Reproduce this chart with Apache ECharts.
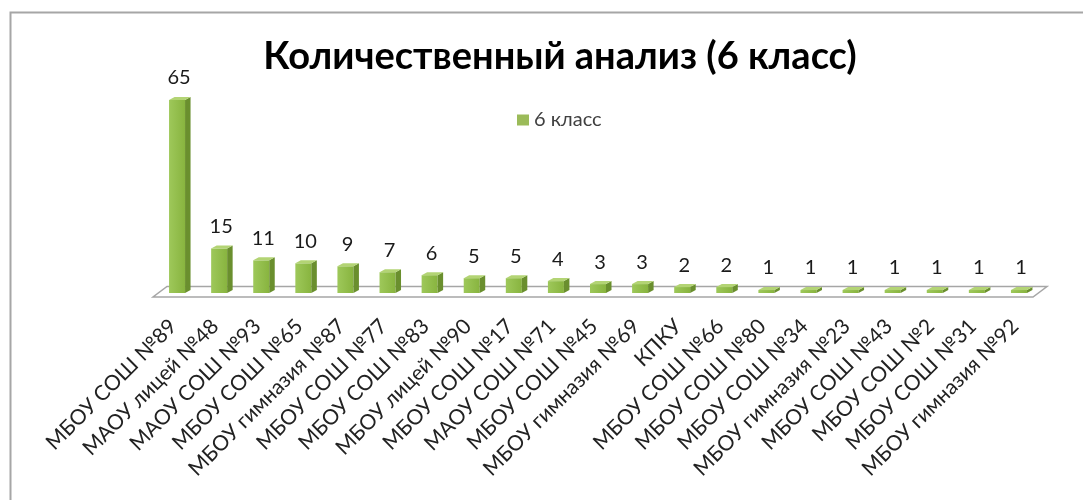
<!DOCTYPE html>
<html>
<head>
<meta charset="utf-8">
<script src="https://cdn.jsdelivr.net/npm/echarts@6/dist/echarts.min.js"></script>
<style>
html,body{margin:0;padding:0;background:#fff;}
#chart{width:1083px;height:500px;}
</style>
</head>
<body>
<div id="chart"></div>
<script>
const titleText = 'Количественный анализ (6 класс)';
const seriesName = '6 класс';
const categories = [
  'МБОУ СОШ №89', 'МАОУ лицей №48', 'МАОУ СОШ №93', 'МБОУ СОШ №65', 'МБОУ гимназия №87',
  'МБОУ СОШ №77', 'МБОУ СОШ №83', 'МБОУ лицей №90', 'МБОУ СОШ №17', 'МАОУ СОШ №71',
  'МБОУ СОШ №45', 'МБОУ гимназия №69', 'КПКУ', 'МБОУ СОШ №66', 'МБОУ СОШ №80',
  'МБОУ СОШ №34', 'МБОУ гимназия №23', 'МБОУ СОШ №43', 'МБОУ СОШ №2', 'МБОУ СОШ №31',
  'МБОУ гимназия №92'
];
const values = [65, 15, 11, 10, 9, 7, 6, 5, 5, 4, 3, 3, 2, 2, 1, 1, 1, 1, 1, 1, 1];

const FONT = 'Lato, "Noto Sans", sans-serif';
const chart = echarts.init(document.getElementById('chart'), null, {renderer: 'canvas'});

function renderFloor(params, api) {
  const cs = params.coordSys;
  const x0 = cs.x, x1 = cs.x + cs.width, yb = cs.y + cs.height;
  return {
    type: 'polygon',
    shape: {points: [[x0 - 4, yb + 4], [x1 - 8, yb + 4], [x1 + 6, yb - 6.5], [x0 + 10, yb - 6.5]]},
    style: {fill: '#ffffff', stroke: '#a6a6a6', lineWidth: 1.5},
    z2: 0
  };
}

function renderBar(params, api) {
  const i = api.value(0), v = api.value(1);
  const b = api.coord([i, 0]);
  const t = api.coord([i, v]);
  const cx = b[0] - 1, hw = 8, dx = 5.5, dy = 3;
  const yT = t[1], yB = b[1];
  return {
    type: 'group',
    children: [
      {type: 'rect', shape: {x: cx - hw, y: yT, width: hw * 2, height: yB - yT},
       style: {fill: new echarts.graphic.LinearGradient(0, 0, 1, 0, [
         {offset: 0, color: '#9ec85a'}, {offset: 1, color: '#88b43f'}])}},
      {type: 'polygon', shape: {points: [[cx + hw, yT], [cx + hw + dx, yT - dy], [cx + hw + dx, yB - dy], [cx + hw, yB]]},
       style: {fill: '#6a8f2e'}},
      {type: 'polygon', shape: {points: [[cx - hw, yT], [cx + hw, yT], [cx + hw + dx, yT - dy], [cx - hw + dx, yT - dy]]},
       style: {fill: '#b3d474'}},
      {type: 'text', x: cx + 2, y: yT - dy - 19,
       style: {text: String(v), align: 'center', verticalAlign: 'middle',
       font: '20px Lato, sans-serif', fill: '#1a1a1a'}}
    ]
  };
}

const option = {
  animation: false,
  backgroundColor: '#ffffff',
  title: {
    text: titleText, left: 555, top: 33, textAlign: 'center',
    textStyle: {fontFamily: FONT, fontWeight: 'bold', fontSize: 38, color: '#000'}
  },
  legend: {
    data: [{name: seriesName, icon: 'rect'}],
    left: 512, top: 105, itemWidth: 12, itemHeight: 11, itemGap: 4,
    textStyle: {fontFamily: FONT, fontSize: 20, color: '#404040'}
  },
  grid: {left: 157, right: 42, top: 100, bottom: 207},
  xAxis: {
    type: 'category', data: categories,
    axisLine: {show: false}, axisTick: {show: false}, splitLine: {show: false},
    axisLabel: {rotate: 45, interval: 0, fontSize: 21, fontFamily: FONT, color: '#222', margin: 25,
                padding: [0, 7, 0, 0]}
  },
  yAxis: {type: 'value', min: 0, max: 65, show: false, splitLine: {show: false}},
  graphic: [{
    type: 'rect', shape: {x: 10.5, y: 12.5, width: 1200, height: 700},
    style: {fill: 'none', stroke: '#a6a6a6', lineWidth: 2}, z: 100, silent: true
  }],
  series: [
    {type: 'custom', name: 'floor', renderItem: renderFloor, data: [[0, 0]], encode: {x: 0, y: 1}, z: 1, silent: true},
    {type: 'custom', name: seriesName, renderItem: renderBar, itemStyle: {color: '#9bbb59'},
     data: values.map((v, i) => [i, v]), encode: {x: 0, y: 1}, z: 2}
  ]
};
chart.setOption(option);
</script>
</body>
</html>
